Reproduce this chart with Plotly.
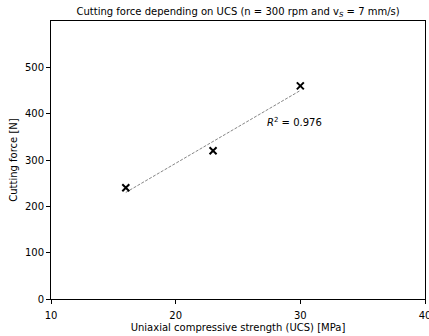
import numpy as np
import plotly.graph_objects as go

ucs = [16, 23, 30]
force = [240, 320, 460]
r2_label = "0.976"

coef = np.polyfit(ucs, force, 1)
fit_x = [min(ucs), max(ucs)]
fit_y = [float(np.polyval(coef, v)) for v in fit_x]

fig = go.Figure()
fig.add_trace(go.Scatter(x=fit_x, y=fit_y, mode="lines",
                         line=dict(color="#666666", width=0.8, dash="3px,1.5px"),
                         showlegend=False, hoverinfo="skip"))
fig.add_trace(go.Scatter(x=ucs, y=force, mode="markers",
                         marker=dict(symbol="x-thin", size=7, color="black",
                                     line=dict(color="black", width=2)),
                         showlegend=False))
fig.add_annotation(x=27.2, y=381, xref="x", yref="y", xanchor="left", yanchor="middle",
                   text="<i>R</i><sup>2</sup> = " + r2_label, showarrow=False,
                   font=dict(size=10, color="black"))

axis_common = dict(showline=True, linecolor="black", linewidth=1, mirror=True,
                   ticks="outside", ticklen=4, tickcolor="black", showgrid=False,
                   zeroline=False, tickfont=dict(size=10, color="black"), automargin=False)
fig.update_xaxes(range=[10, 40], tickvals=[10, 20, 30, 40],
                 ticklabeloverflow="allow", ticklabelstandoff=3,
                 title=dict(text="Uniaxial compressive strength (UCS) [MPa]",
                            font=dict(size=10, color="black"), standoff=3),
                 **axis_common)
fig.update_yaxes(range=[0, 600], tickvals=[0, 100, 200, 300, 400, 500],
                 title=dict(text="Cutting force [N]", font=dict(size=10, color="black"), standoff=5),
                 **axis_common)
fig.update_layout(
    width=429, height=336,
    margin=dict(l=51, r=4, t=21, b=37),
    plot_bgcolor="white", paper_bgcolor="white",
    font=dict(family="DejaVu Sans", size=10, color="black"),
    title=dict(text="Cutting force depending on UCS (n = 300 rpm and v<sub><i>S</i></sub> = 7 mm/s)",
               x=0.555, xanchor="center", y=0.965, yanchor="middle",
               font=dict(size=10, color="black")),
)
fig.write_html("out.html")
